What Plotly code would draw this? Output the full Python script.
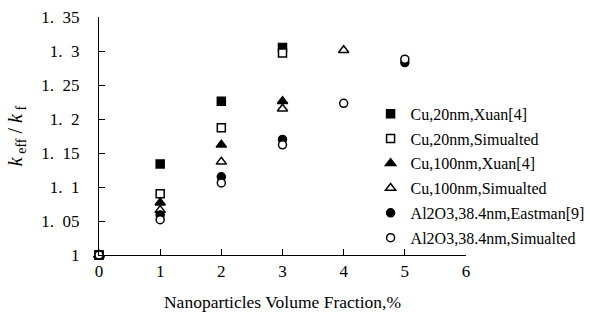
import plotly.graph_objects as go

cu20_xuan_x = [0, 1, 2, 3]
cu20_xuan = [1.0, 1.134, 1.226, 1.305]
cu20_sim_x = [0, 1, 2, 3]
cu20_sim = [1.0, 1.090, 1.187, 1.297]
cu100_xuan_x = [0, 1, 2, 3]
cu100_xuan = [1.0, 1.077, 1.162, 1.226]
cu100_sim_x = [0, 1, 2, 3, 4]
cu100_sim = [1.0, 1.066, 1.137, 1.215, 1.301]
al_east_x = [0, 1, 2, 3, 5]
al_east = [1.0, 1.059, 1.115, 1.170, 1.283]
al_sim_x = [0, 1, 2, 3, 4, 5]
al_sim = [1.0, 1.052, 1.106, 1.162, 1.223, 1.288]

names = ["Cu,20nm,Xuan[4]", "Cu,20nm,Simualted", "Cu,100nm,Xuan[4]",
         "Cu,100nm,Simualted", "Al2O3,38.4nm,Eastman[9]", "Al2O3,38.4nm,Simualted"]
symbols = ["square", "square", "triangle-up", "triangle-up", "circle", "circle"]
fills = ["black", "white", "black", "white", "black", "white"]
sizes = [8, 8, 9, 9, 8, 8]
xs = [cu20_xuan_x, cu20_sim_x, cu100_xuan_x, cu100_sim_x, al_east_x, al_sim_x]
ys = [cu20_xuan, cu20_sim, cu100_xuan, cu100_sim, al_east, al_sim]

x_ticks = [0, 1, 2, 3, 4, 5, 6]
y_ticks = [1, 1.05, 1.1, 1.15, 1.2, 1.25, 1.3, 1.35]
y_tick_text = ["1", "1.\u00a0\u00a005", "1.\u00a0\u00a01", "1.\u00a0\u00a015", "1.\u00a0\u00a02",
               "1.\u00a0\u00a025", "1.\u00a0\u00a03", "1.\u00a0\u00a035"]

fig = go.Figure()
for i in range(6):
    fig.add_trace(go.Scatter(
        x=xs[i], y=ys[i], mode="markers", name=names[i], legendgroup=str(i),
        marker=dict(symbol=symbols[i], size=sizes[i], color=fills[i],
                    line=dict(color="black", width=1.5)),
        cliponaxis=False))

font_family = "Liberation Serif"
fig.update_layout(
    width=590, height=324,
    margin=dict(l=99, r=124, t=17, b=69, autoexpand=False),
    paper_bgcolor="white", plot_bgcolor="white",
    font=dict(family=font_family, color="black", size=15),
    showlegend=True,
    legend=dict(x=0.74, y=0.665, xanchor="left", yanchor="top",
                font=dict(family=font_family, size=16, color="black"),
                tracegroupgap=1, bgcolor="rgba(0,0,0,0)", itemwidth=30),
    xaxis=dict(range=[0, 6], tickvals=x_ticks, ticks="inside", ticklen=6,
               tickcolor="black", showline=True, linecolor="black", linewidth=1.2,
               showgrid=False, zeroline=False, tickfont=dict(size=17), automargin=False,
               title=dict(text="Nanoparticles Volume Fraction,%", font=dict(size=17.5), standoff=16)),
    yaxis=dict(range=[1, 1.35], tickvals=y_ticks, ticktext=y_tick_text, ticks="inside",
               ticklen=6, tickcolor="black", showline=True, linecolor="black", linewidth=1.2,
               showgrid=False, zeroline=False, tickfont=dict(size=17), ticklabelstandoff=15,
               automargin=False,
               title=dict(text="<i>k</i><sub> eff</sub> / <i>k</i><sub> f</sub>", font=dict(size=20), standoff=13)),
)
fig.write_html("out.html", post_script="document.body.style.margin='0';",
               config={"displayModeBar": False})
